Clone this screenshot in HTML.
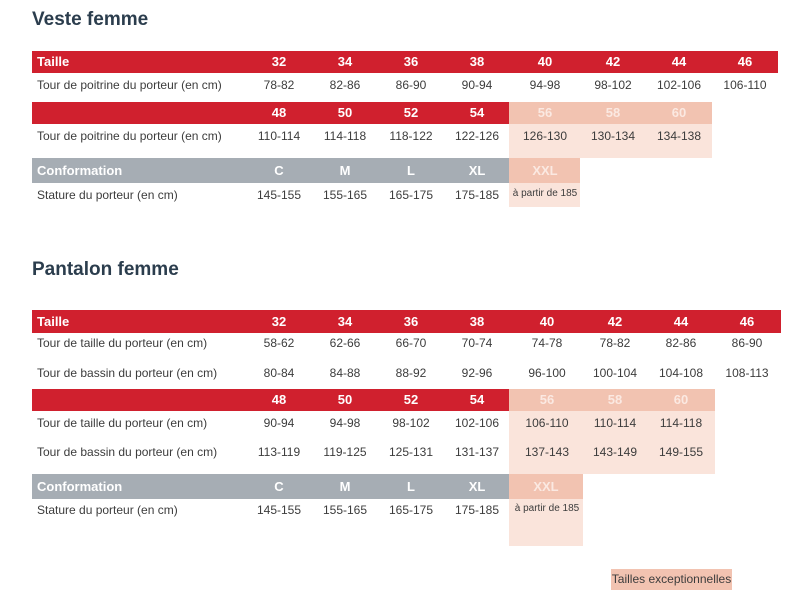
<!DOCTYPE html>
<html><head><meta charset="utf-8"><style>
body{margin:0;width:800px;height:600px;background:#fff;position:relative;overflow:hidden;font-family:"Liberation Sans Narrow","Liberation Sans",sans-serif;}
.a{position:absolute;box-sizing:border-box}
.t{font-family:"Liberation Sans",sans-serif;font-weight:bold;font-size:19px;color:#2b3d4d;}
.red{background:#d0202e}.gray{background:#a6adb4}.ph{background:#f2c3b1}.pb{background:#fae4db}
.h{color:#fff;font-family:"Liberation Sans",sans-serif;font-weight:bold;font-size:13px;text-align:center;line-height:22px}
.c{color:#3c3c3c;font-size:12px;text-align:center;white-space:nowrap}
.l{color:#3c3c3c;font-size:12px;white-space:nowrap}
</style></head><body>
<div class="a t" style="left:32px;top:9px">Veste femme</div>
<div class="a t" style="left:32px;top:259px">Pantalon femme</div>
<div class="a ph l" style="left:611px;top:569px;width:121px;height:21px;line-height:21px;text-align:center">Tailles exceptionnelles</div>
<script>
const cx=[279,345,411,477,545,613,679,745];
function box(cls,x,y,w,h,name){const d=document.createElement('div');d.className='a '+cls;d.style.cssText=`left:${x}px;top:${y}px;width:${w}px;height:${h}px`;


document.body.appendChild(d);return d;}
function txt(cls,x,y,s,name,center){const d=document.createElement('div');d.className='a '+cls;d.textContent=s;
if(center){d.style.cssText=`left:${x-40}px;top:${y}px;width:80px`;}else{d.style.cssText=`left:${x}px;top:${y}px`;}


document.body.appendChild(d);return d;}
function header(y,h,label,vals,cls,name,shift){
 txt('h',37,y,label,name+'-label',false).style.lineHeight=h+'px';
 vals.forEach((v,i)=>{if(v===null)return;const e=txt('h',cx[i]+(shift&&i>=4?2:0),y,v,name+'-'+v,true);e.style.lineHeight=h+'px';if(cls[i]==='p')e.style.color='#fbe9e2';});
}
function row(y,label,vals,name,shift){txt('l',37,y,label,name+'-label',false);
 vals.forEach((v,i)=>{if(v===null)return;const e=txt('c',cx[i]+(shift&&i>=4?2:0),y,v,name+'-'+i,true);if(v.startsWith('à'))e.style.fontSize='10px';});}
const N=null;
// Veste
box('red',32,51,746,22,'veste-header-1');
header(51,22,'Taille',['32','34','36','38','40','42','44','46'],[],'veste-size');
row(78,'Tour de poitrine du porteur (en cm)',['78-82','82-86','86-90','90-94','94-98','98-102','102-106','106-110'],'veste-chest-1');
box('red',32,102,477,22,'veste-header-2');
box('ph',509,102,203,22,'veste-exc-header');
box('pb',509,124,203,34,'veste-exc-body');
header(102,22,'',['48','50','52','54','56','58','60',N],['r','r','r','r','p','p','p'],'veste-size2');
row(129,'Tour de poitrine du porteur (en cm)',['110-114','114-118','118-122','122-126','126-130','130-134','134-138',N],'veste-chest-2');
box('gray',32,158,477,25,'veste-conformation-header');
box('ph',509,158,71,25,'veste-xxl-header');
box('pb',509,183,71,24,'veste-xxl-body');
header(158,25,'Conformation',['C','M','L','XL',N,N,N,N],[],'veste-conf');
txt('h',545,158,'XXL','veste-xxl',true).style.cssText+=';line-height:25px;color:#fbe9e2';
row(188,'Stature du porteur (en cm)',['145-155','155-165','165-175','175-185','à partir de 185',N,N,N],'veste-stature');
// Pantalon
box('red',32,310,749,23,'pantalon-header-1');
header(310,23,'Taille',['32','34','36','38','40','42','44','46'],[],'pantalon-size',true);
row(336,'Tour de taille du porteur (en cm)',['58-62','62-66','66-70','70-74','74-78','78-82','82-86','86-90'],'pantalon-waist-1',true);
row(366,'Tour de bassin du porteur (en cm)',['80-84','84-88','88-92','92-96','96-100','100-104','104-108','108-113'],'pantalon-hip-1',true);
box('red',32,389,477,22,'pantalon-header-2');
box('ph',509,389,206,22,'pantalon-exc-header');
box('pb',509,411,206,63,'pantalon-exc-body');
header(389,22,'',['48','50','52','54','56','58','60',N],['r','r','r','r','p','p','p'],'pantalon-size2',true);
row(416,'Tour de taille du porteur (en cm)',['90-94','94-98','98-102','102-106','106-110','110-114','114-118',N],'pantalon-waist-2',true);
row(445,'Tour de bassin du porteur (en cm)',['113-119','119-125','125-131','131-137','137-143','143-149','149-155',N],'pantalon-hip-2',true);
box('gray',32,474,477,25,'pantalon-conformation-header');
box('ph',509,474,74,25,'pantalon-xxl-header');
box('pb',509,499,74,47,'pantalon-xxl-body');
header(474,25,'Conformation',['C','M','L','XL',N,N,N,N],[],'pantalon-conf');
txt('h',546,474,'XXL','pantalon-xxl',true).style.cssText+=';line-height:25px;color:#fbe9e2';
row(503,'Stature du porteur (en cm)',['145-155','155-165','165-175','175-185','à partir de 185',N,N,N],'pantalon-stature',true);
</script>
</body></html>
